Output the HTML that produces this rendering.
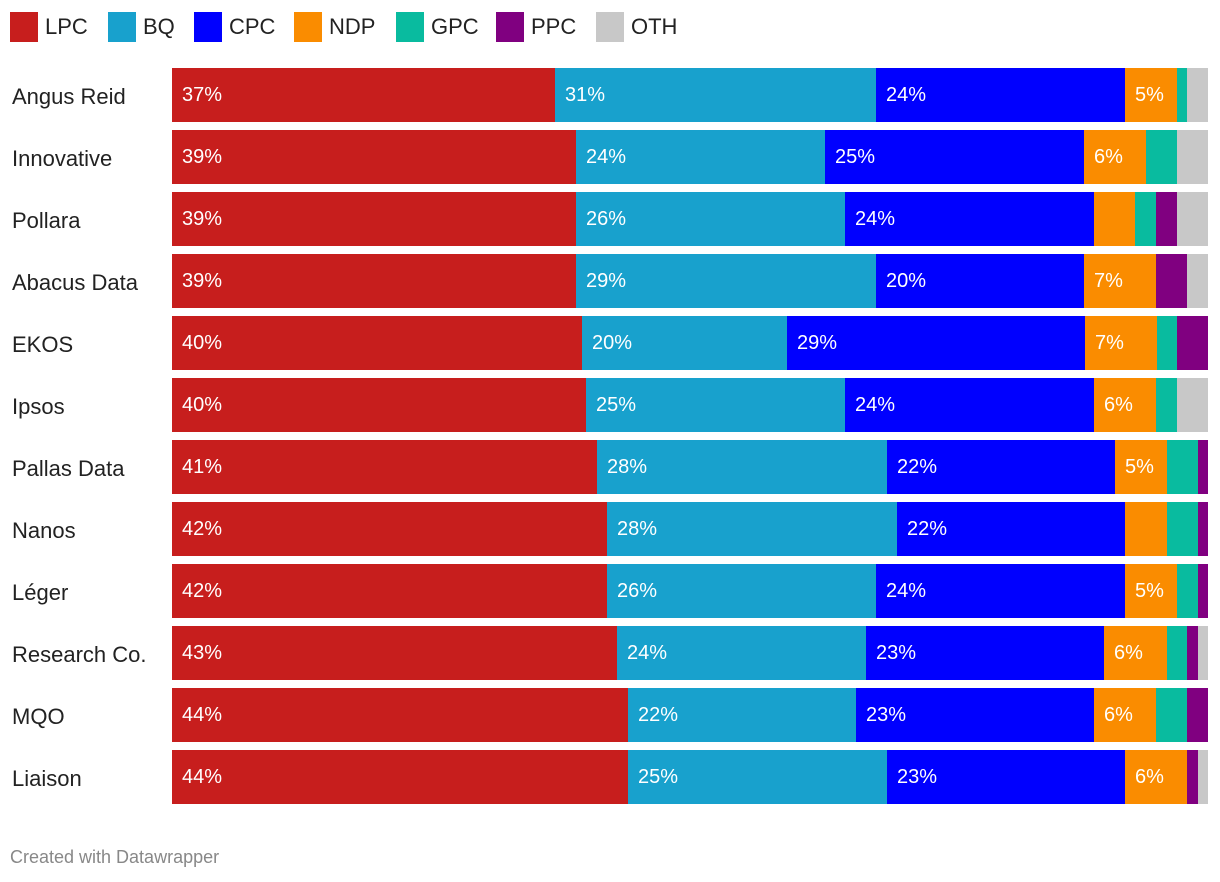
<!DOCTYPE html>
<html><head><meta charset="utf-8"><style>
body{margin:0;background:#fff;font-family:"Liberation Sans",sans-serif;}
#wrap{position:relative;width:1220px;height:882px;overflow:hidden;}
.lg{position:absolute;top:12px;height:30px;display:flex;align-items:center;font-size:22px;color:#222;}
.sw{width:28px;height:30px;margin-right:7px;}
.row{position:absolute;left:12px;font-size:22px;color:#222;}
.seg{position:absolute;height:54px;}
.vl{position:absolute;color:#fff;font-size:20px;line-height:54px;}
#foot{position:absolute;left:10px;top:847px;font-size:18px;color:#888;}
</style></head><body>
<div id="wrap">
<div id="legend"></div>
<div id="bars"></div>
<div id="foot">Created with Datawrapper</div>
</div>
<script>
const parties=["LPC","BQ","CPC","NDP","GPC","PPC","OTH"];
const colors=["#c71e1d","#18a1cd","#0000ff","#fa8c00","#09bb9f","#800080","#c8c8c8"];
const pollsters=["Angus Reid","Innovative","Pollara","Abacus Data","EKOS","Ipsos","Pallas Data","Nanos","Léger","Research Co.","MQO","Liaison"];
const LPC=[37,39,39,39,40,40,41,42,42,43,44,44];
const BQ=[31,24,26,29,20,25,28,28,26,24,22,25];
const CPC=[24,25,24,20,29,24,22,22,24,23,23,23];
const NDP=[5,6,4,7,7,6,5,4,5,6,6,6];
const GPC=[1,3,2,0,2,2,3,3,2,2,3,0];
const PPC=[0,0,2,3,3,0,1,1,1,1,2,1];
const OTH=[2,3,3,2,0,3,0,0,0,1,0,1];
const series=[LPC,BQ,CPC,NDP,GPC,PPC,OTH];
const legendX=[10,108,194,294,396,496,596];
const X0=172,W=1036,Y0=68,STEP=62,BH=54;
const lg=document.getElementById('legend');
parties.forEach((p,i)=>{
  const d=document.createElement('div');d.className='lg';d.style.left=legendX[i]+'px';
  
  
  d.innerHTML='<div class="sw" style="background:'+colors[i]+'"></div>'+p;
  lg.appendChild(d);
});
const area=document.getElementById('bars');
pollsters.forEach((name,r)=>{
  const y=Y0+r*STEP;
  const lab=document.createElement('div');lab.className='row';lab.textContent=name;
  lab.style.top=(y+16)+'px';
  
  
  area.appendChild(lab);
  let total=0;series.forEach(s=>total+=s[r]);
  const xs=v=>X0+v/total*W;
  let cum=0;
  series.forEach((s,i)=>{
    const v=s[r];if(v<=0)return;
    const x1=Math.round(xs(cum)),x2=Math.round(xs(cum+v));cum+=v;
    const seg=document.createElement('div');seg.className='seg';
    seg.style.left=x1+'px';seg.style.width=(x2-x1)+'px';seg.style.top=y+'px';seg.style.background=colors[i];
    
    
    area.appendChild(seg);
    if(v>=5){
      const t=document.createElement('div');t.className='vl';t.textContent=v+'%';
      t.style.left=(x1+10)+'px';t.style.top=y+'px';
      
      
      area.appendChild(t);
    }
  });
});
</script>
</body></html>
